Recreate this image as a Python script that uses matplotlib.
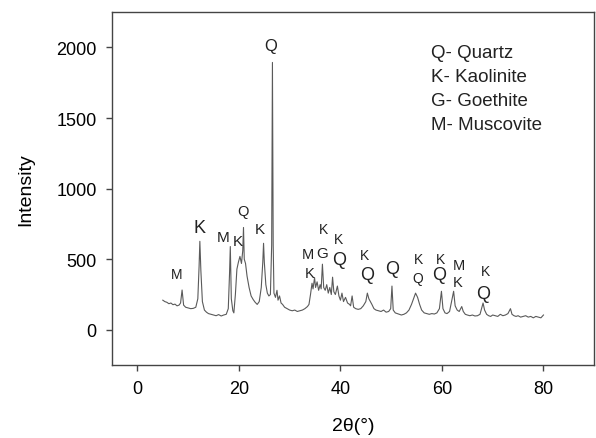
import matplotlib
matplotlib.use('Agg')
import matplotlib.pyplot as plt

plt.rcParams['font.family'] = ['Liberation Sans', 'DejaVu Sans']

# XRD pattern: 2-theta (deg) and intensity
two_theta = [5.0, 5.4, 5.8, 6.2, 6.6, 7.0, 7.4, 7.8, 8.2, 8.5, 8.8, 9.1, 9.5, 10.0, 10.5, 11.0,
             11.5, 11.9, 12.15, 12.3, 12.5, 12.8, 13.2, 13.6, 14.0, 14.5, 15.0, 15.5, 16.0, 16.5,
             17.0, 17.5, 17.9, 18.15, 18.3, 18.5, 18.8, 19.0, 19.3, 19.6, 19.9, 20.2, 20.5, 20.75,
             20.9, 21.05, 21.3, 21.6, 22.0, 22.4, 22.8, 23.2, 23.6, 24.0, 24.4, 24.7, 24.85, 25.0,
             25.3, 25.6, 25.9, 26.2, 26.45, 26.6, 26.75, 26.9, 27.2, 27.5, 27.7, 28.0, 28.3, 28.6,
             29.0, 29.5, 30.0, 30.5, 31.0, 31.5, 32.0, 32.5, 33.0, 33.5, 33.8, 34.1, 34.4, 34.6,
             34.9, 35.1, 35.4, 35.7, 36.0, 36.2, 36.45, 36.7, 37.0, 37.3, 37.6, 37.9, 38.2, 38.45,
             38.7, 39.0, 39.4, 39.7, 40.0, 40.3, 40.6, 41.0, 41.4, 41.8, 42.0, 42.3, 42.6, 43.0,
             43.5, 44.0, 44.5, 45.0, 45.3, 45.6, 45.9, 46.2, 46.6, 47.0, 47.5, 48.0, 48.5, 49.0,
             49.5, 49.9, 50.15, 50.4, 50.8, 51.2, 51.6, 52.0, 52.5, 53.0, 53.5, 54.0, 54.4, 54.8,
             55.2, 55.6, 56.0, 56.5, 57.0, 57.5, 58.0, 58.5, 59.0, 59.5, 59.9, 60.2, 60.6, 61.0,
             61.5, 61.9, 62.3, 62.6, 63.0, 63.4, 63.9, 64.2, 64.6, 65.0, 65.5, 66.0, 66.5, 67.0,
             67.5, 67.8, 68.1, 68.4, 68.8, 69.2, 69.6, 70.0, 70.5, 71.0, 71.5, 72.0, 72.5, 73.0,
             73.5, 73.8, 74.2, 74.6, 75.0, 75.5, 76.0, 76.5, 77.0, 77.5, 78.0, 78.5, 79.0, 79.5,
             80.0]
intensity = [210, 200, 195, 185, 190, 178, 182, 170, 175, 190, 282, 175, 160, 155, 150, 152,
             160, 220, 450, 627, 420, 200, 140, 125, 115, 110, 105, 100, 108, 98,
             105, 110, 150, 400, 590, 220, 135, 120, 250, 430, 480, 520, 470, 560,
             725, 500, 470, 380, 300, 240, 215, 195, 180, 200, 300, 480, 613, 480,
             320, 260, 240, 250, 600, 1894, 600, 260, 230, 280, 210, 240, 190, 180,
             160, 150, 140, 135, 140, 130, 135, 140, 150, 165, 180, 250, 330, 290,
             370, 300, 340, 280, 320, 290, 465, 300, 280, 320, 260, 300, 250, 373,
             270, 250, 310, 240, 210, 260, 200, 230, 190, 180, 170, 240, 160, 150,
             145, 150, 170, 200, 260, 220, 200, 180, 150, 140, 135, 130, 140, 125,
             130, 150, 310, 140, 120, 115, 110, 105, 110, 120, 140, 180, 220, 260,
             230, 180, 140, 120, 115, 110, 115, 112, 120, 150, 273, 150, 120, 115,
             130, 200, 273, 170, 140, 130, 165, 130, 110, 105, 100, 105, 98, 100,
             110, 150, 190, 140, 110, 100, 95, 105, 100, 95, 110, 100, 105, 115,
             150, 110, 100, 95, 100, 90, 95, 100, 90, 95, 85, 95, 90, 85,
             105]

# phase labels above the peaks
label_text = ['M', 'K', 'M', 'K', 'Q', 'K', 'Q', 'M', 'G', 'K', 'K', 'K', 'Q',
              'K', 'Q', 'Q', 'K', 'Q', 'K', 'Q', 'M', 'K', 'K', 'Q']
label_x = [7.8, 12.2, 16.9, 19.7, 20.7, 24.1, 26.35, 33.6, 36.45, 34.0, 36.6, 39.6, 39.7,
           44.8, 45.3, 50.1, 55.3, 55.3, 59.7, 59.5, 63.3, 63.0, 68.6, 68.2]
label_y = [397, 725, 660, 629, 843, 714, 2014, 535, 542, 401, 711, 643, 495,
           530, 390, 437, 500, 366, 500, 394, 460, 338, 418, 260]
label_size = [10, 13, 11, 11, 10.5, 11, 12, 10.5, 11, 10.5, 10, 10, 13,
              10, 13, 13, 10, 10, 10, 13, 10.5, 10.5, 10, 13]

legend_lines = ['Q- Quartz', 'K- Kaolinite', 'G- Goethite', 'M- Muscovite']

fig = plt.figure(figsize=(5.96, 4.39), dpi=100)
ax = fig.add_axes([0.188, 0.166, 0.809, 0.804])

ax.plot(two_theta, intensity, color='#5a5a5a', lw=0.8)

for t, x, y, s in zip(label_text, label_x, label_y, label_size):
    ax.text(x, y, t, fontsize=s, ha='center', va='center', color='#222222')

for i, t in enumerate(legend_lines):
    ax.text(0.662, 0.885 - i * 0.068, t, transform=ax.transAxes, fontsize=13.5,
            ha='left', va='center', color='#222222')

ax.set_xlim(-5, 90)
ax.set_ylim(-250, 2250)
ax.set_xticks([0, 20, 40, 60, 80])
ax.set_yticks([0, 500, 1000, 1500, 2000])
ax.tick_params(direction='out', length=4, width=1, color='#444444', labelsize=13,
               top=False, right=False, pad=7)
for sp in ax.spines.values():
    sp.set_color('#444444')
    sp.set_linewidth(1)

ax.set_xlabel('2θ(°)', fontsize=14, labelpad=14)
ax.set_ylabel('Intensity', fontsize=14, labelpad=16)

fig.savefig('out.png', dpi=100)
